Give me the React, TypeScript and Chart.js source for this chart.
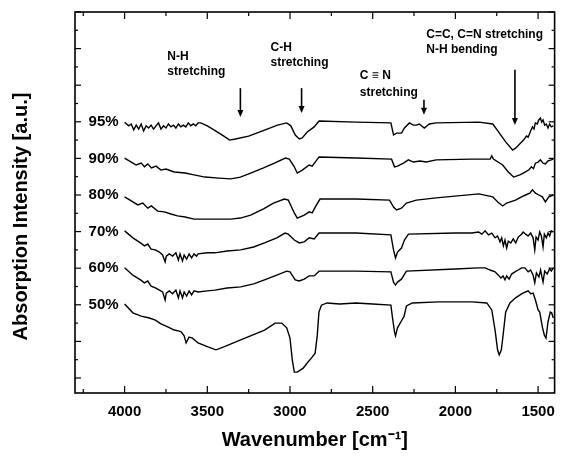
import React, { useEffect, useRef } from 'react';
import { Chart, registerables } from 'chart.js';

Chart.register(...registerables);

// ---- data (wavenumber in cm-1, absorption in arbitrary offset units) ----
const wn95 = [4000, 3975, 3960, 3945, 3930, 3915, 3900, 3885, 3870, 3855, 3840, 3825, 3810, 3795, 3780, 3765, 3750, 3735, 3720, 3705, 3690, 3675, 3660, 3645, 3630, 3615, 3600, 3585, 3570, 3555, 3540, 3500, 3450, 3400, 3365, 3330, 3250, 3150, 3076, 3020, 2995, 2968, 2944, 2926, 2896, 2878, 2854, 2824, 2600, 2390, 2374, 2356, 2326, 2308, 2278, 2254, 2236, 2218, 2188, 2158, 2116, 1858, 1774, 1738, 1696, 1654, 1636, 1588, 1570, 1560, 1545, 1534, 1525, 1516, 1505, 1496, 1486, 1478, 1470, 1460, 1450, 1440, 1430, 1420, 1408];
const ab95 = [69.9, 68.9, 69.4, 67.8, 69.1, 68.0, 69.4, 67.5, 68.9, 68.3, 69.1, 68.0, 68.9, 69.7, 68.0, 68.9, 68.3, 69.4, 68.6, 69.1, 68.3, 69.4, 68.6, 69.1, 68.6, 69.7, 68.9, 69.4, 68.9, 69.7, 69.7, 68.9, 67.5, 66.1, 65.0, 65.3, 66.1, 67.8, 69.1, 69.7, 68.9, 66.4, 65.3, 65.6, 67.2, 67.8, 68.6, 70.2, 69.9, 69.7, 66.4, 66.9, 66.9, 68.3, 69.7, 69.1, 69.1, 69.4, 68.3, 69.4, 69.7, 69.9, 69.4, 67.2, 64.5, 62.3, 62.8, 65.0, 66.1, 65.8, 67.5, 68.6, 68.0, 69.7, 69.4, 70.5, 71.0, 69.9, 70.5, 69.1, 69.4, 68.3, 69.4, 68.6, 68.9];

const wn90 = [4000, 3960, 3930, 3900, 3880, 3860, 3838, 3810, 3780, 3750, 3700, 3634, 3580, 3514, 3430, 3358, 3300, 3238, 3160, 3094, 3028, 3004, 2974, 2956, 2926, 2884, 2866, 2824, 2600, 2386, 2368, 2350, 2314, 2284, 2254, 2215, 2176, 2116, 1900, 1790, 1780, 1770, 1714, 1680, 1648, 1610, 1576, 1555, 1540, 1528, 1516, 1500, 1486, 1470, 1456, 1440, 1420, 1408];
const ab90 = [60.1, 59.0, 58.2, 58.7, 57.7, 58.5, 57.4, 57.9, 56.8, 57.1, 56.3, 56.0, 55.5, 54.9, 54.6, 54.4, 54.9, 56.0, 57.4, 58.7, 60.1, 59.8, 57.7, 56.0, 56.8, 58.2, 57.9, 60.4, 60.1, 59.8, 57.7, 57.9, 58.7, 59.6, 59.0, 59.3, 59.0, 59.6, 59.8, 59.8, 60.7, 59.8, 58.2, 56.3, 54.9, 55.5, 56.3, 56.9, 57.7, 57.2, 58.7, 59.0, 59.6, 58.7, 58.5, 59.3, 59.6, 59.8];

const wn80 = [4000, 3960, 3920, 3890, 3860, 3838, 3800, 3760, 3720, 3680, 3634, 3580, 3514, 3430, 3358, 3300, 3238, 3160, 3100, 3034, 3010, 2974, 2956, 2914, 2884, 2866, 2840, 2818, 2600, 2398, 2374, 2356, 2326, 2296, 2236, 2116, 1858, 1774, 1744, 1714, 1690, 1636, 1600, 1576, 1550, 1534, 1516, 1495, 1474, 1456, 1435, 1408];
const ab80 = [49.5, 48.4, 47.3, 47.8, 46.4, 47.0, 45.6, 45.4, 44.8, 44.3, 44.0, 43.4, 43.4, 43.4, 43.4, 43.7, 44.5, 46.2, 47.8, 48.9, 48.6, 45.1, 43.7, 44.5, 45.4, 45.1, 47.3, 48.9, 48.9, 48.6, 46.7, 45.9, 46.4, 47.8, 48.6, 49.2, 50.3, 49.5, 48.1, 47.0, 47.8, 48.6, 49.5, 50.0, 50.5, 51.4, 50.5, 50.0, 49.5, 48.1, 49.5, 50.0];

const wn70 = [4000, 3950, 3904, 3880, 3860, 3840, 3814, 3790, 3770, 3755, 3748, 3730, 3710, 3690, 3675, 3665, 3650, 3640, 3625, 3610, 3595, 3580, 3565, 3556, 3500, 3454, 3380, 3298, 3220, 3154, 3080, 3030, 3010, 2974, 2944, 2914, 2884, 2854, 2824, 2600, 2390, 2374, 2362, 2350, 2326, 2308, 2284, 2000, 1900, 1860, 1840, 1820, 1800, 1780, 1760, 1745, 1730, 1720, 1710, 1700, 1690, 1680, 1665, 1650, 1635, 1620, 1600, 1590, 1575, 1560, 1545, 1530, 1520, 1512, 1500, 1490, 1480, 1470, 1462, 1450, 1440, 1430, 1420, 1408];
const ab70 = [40.2, 38.3, 36.9, 36.1, 36.6, 35.2, 35.0, 34.4, 33.6, 31.7, 33.3, 33.9, 33.3, 34.2, 32.2, 33.9, 32.0, 33.6, 32.5, 33.9, 32.8, 33.9, 33.3, 33.9, 34.2, 34.2, 34.7, 35.0, 35.8, 36.9, 38.3, 39.6, 39.3, 37.7, 36.9, 37.2, 38.3, 38.0, 39.6, 39.6, 39.1, 35.0, 32.8, 34.4, 35.5, 37.7, 39.3, 39.6, 39.6, 39.9, 39.3, 40.2, 39.1, 39.6, 38.3, 38.8, 37.2, 38.3, 36.1, 37.7, 35.5, 37.4, 36.9, 38.0, 36.9, 38.5, 39.3, 39.9, 39.3, 38.8, 39.6, 38.3, 35.0, 38.5, 37.7, 39.9, 38.8, 35.8, 39.3, 38.3, 39.6, 38.8, 40.2, 39.9];

const wn60 = [4000, 3950, 3904, 3880, 3860, 3840, 3814, 3790, 3770, 3755, 3748, 3730, 3710, 3690, 3675, 3665, 3650, 3640, 3625, 3610, 3595, 3580, 3556, 3500, 3454, 3380, 3298, 3220, 3154, 3080, 3020, 3000, 2968, 2944, 2914, 2884, 2854, 2824, 2600, 2390, 2374, 2362, 2350, 2326, 2296, 2000, 1860, 1820, 1790, 1760, 1740, 1725, 1712, 1700, 1690, 1675, 1660, 1640, 1620, 1600, 1580, 1560, 1545, 1530, 1520, 1510, 1495, 1485, 1470, 1460, 1445, 1430, 1420, 1408];
const ab60 = [30.1, 28.1, 26.8, 26.0, 26.5, 25.1, 24.6, 24.0, 23.5, 21.3, 23.2, 23.8, 23.0, 24.0, 21.9, 23.8, 21.9, 23.5, 22.4, 23.8, 22.7, 23.8, 23.5, 23.8, 24.0, 24.6, 24.9, 25.7, 26.8, 28.1, 29.2, 29.0, 26.8, 26.5, 27.0, 27.9, 27.9, 29.2, 29.2, 29.0, 26.2, 25.4, 26.2, 27.0, 29.2, 29.8, 30.1, 30.1, 29.5, 29.0, 28.1, 27.3, 27.9, 26.8, 27.9, 27.0, 28.4, 29.0, 29.5, 30.1, 30.1, 29.0, 29.5, 28.1, 26.0, 28.7, 27.6, 29.5, 26.2, 29.2, 28.4, 29.8, 29.2, 30.1];

const wn50 = [4000, 3950, 3900, 3850, 3814, 3780, 3736, 3700, 3670, 3658, 3640, 3628, 3610, 3590, 3570, 3556, 3496, 3448, 3400, 3298, 3154, 3090, 3050, 3020, 3000, 2986, 2974, 2956, 2920, 2896, 2870, 2848, 2835, 2825, 2810, 2776, 2700, 2600, 2500, 2390, 2380, 2368, 2362, 2350, 2330, 2310, 2296, 2260, 2100, 1900, 1810, 1780, 1760, 1745, 1735, 1722, 1710, 1696, 1670, 1636, 1600, 1576, 1560, 1545, 1530, 1516, 1500, 1490, 1474, 1462, 1452, 1440, 1426, 1418, 1408];
const ab50 = [20.2, 17.8, 16.9, 16.4, 15.8, 14.8, 13.9, 13.1, 12.8, 12.6, 11.5, 9.6, 11.2, 10.9, 10.1, 9.6, 8.5, 7.7, 8.5, 10.4, 13.1, 15.0, 15.0, 13.7, 10.9, 4.9, 1.6, 1.6, 2.7, 4.1, 5.5, 6.8, 11.7, 18.0, 19.9, 20.5, 20.2, 20.5, 20.2, 19.9, 16.4, 12.6, 11.5, 13.7, 15.3, 16.9, 19.7, 20.5, 20.8, 20.8, 20.5, 18.6, 13.1, 7.7, 6.3, 7.7, 12.3, 18.0, 20.5, 21.9, 23.0, 23.5, 23.8, 23.0, 23.2, 21.3, 18.6, 18.0, 13.9, 11.7, 10.9, 15.3, 18.0, 17.8, 16.4];

const seriesLabels = ['95%', '90%', '80%', '70%', '60%', '50%'];
const labelLevels = [70, 60, 50, 40, 30, 20];
const seriesWn = [wn95, wn90, wn80, wn70, wn60, wn50];
const seriesAb = [ab95, ab90, ab80, ab70, ab60, ab50];

const xTickValues = [4000, 3500, 3000, 2500, 2000, 1500];
const yTitleText = 'Absorption Intensity [a.u.]';
const xTitleText = 'Wavenumber [cm\u207B\u00B9]';

// annotations
const annLine1 = ['N-H', 'C-H', 'C \u2261 N', 'C=C, C=N stretching'];
const annLine2 = ['stretching', 'stretching', 'stretching', 'N-H bending'];
const annWn = [3742, 3118, 2578, 2176];
const annY1 = [87.7, 90.2, 82.5, 93.7];
const annY2 = [83.6, 86.1, 77.9, 89.6];
const arrowWn = [3300, 2930, 2190, 1640];
const arrowFrom = [79.2, 79.2, 76.0, 84.2];
const arrowTo = [71.3, 72.4, 71.9, 69.1];

const FONT = '"Liberation Sans", Arial, Helvetica, sans-serif';

const decorPlugin = {
  id: 'decor',
  afterDatasetsDraw(chart: any) {
    const { ctx, chartArea: a, scales } = chart;
    const x = scales.x;
    const y = scales.y;
    ctx.save();
    ctx.strokeStyle = '#000';
    ctx.fillStyle = '#000';
    // frame
    ctx.lineWidth = 1.6;
    ctx.strokeRect(a.left, a.top, a.right - a.left, a.bottom - a.top);
    ctx.lineWidth = 1.2;
    const seg = (x1: number, y1: number, x2: number, y2: number) => {
      ctx.beginPath();
      ctx.moveTo(x1, y1);
      ctx.lineTo(x2, y2);
      ctx.stroke();
    };
    // x ticks (inward, top and bottom)
    for (let v = 1500; v <= 4250; v += 250) {
      const px = x.getPixelForValue(v);
      const len = v % 500 === 0 ? 7 : 4;
      seg(px, a.bottom, px, a.bottom - len);
      seg(px, a.top, px, a.top + len);
    }
    // y ticks (inward, left and right)
    for (let v = 0; v <= 100; v += 5) {
      const py = y.getPixelForValue(v);
      const len = v % 10 === 0 ? 6 : 3;
      seg(a.left, py, a.left + len, py);
      seg(a.right, py, a.right - len, py);
    }
    // y axis title (rotated)
    ctx.save();
    ctx.translate(21, (a.top + a.bottom) / 2 + 14);
    ctx.rotate(-Math.PI / 2);
    ctx.font = `bold 20px ${FONT}`;
    ctx.textAlign = 'center';
    ctx.textBaseline = 'middle';
    ctx.fillText(yTitleText, 0, 0);
    ctx.restore();
    // series labels
    ctx.font = `bold 15px ${FONT}`;
    ctx.textAlign = 'right';
    ctx.textBaseline = 'middle';
    const lx = x.getPixelForValue(4000) - 6;
    seriesLabels.forEach((t, i) => {
      ctx.fillText(t, lx, y.getPixelForValue(labelLevels[i]));
    });
    // annotation text
    ctx.font = `bold 12px ${FONT}`;
    ctx.textAlign = 'left';
    annLine1.forEach((t, i) => {
      const px = x.getPixelForValue(annWn[i]);
      ctx.fillText(t, px, y.getPixelForValue(annY1[i]));
      ctx.fillText(annLine2[i], px, y.getPixelForValue(annY2[i]));
    });
    // arrows
    ctx.lineWidth = 1.6;
    arrowWn.forEach((w, i) => {
      const px = x.getPixelForValue(w);
      const y1 = y.getPixelForValue(arrowFrom[i]);
      const y2 = y.getPixelForValue(arrowTo[i]);
      seg(px, y1, px, y2 - 5);
      ctx.beginPath();
      ctx.moveTo(px - 3, y2 - 7);
      ctx.lineTo(px + 3, y2 - 7);
      ctx.lineTo(px, y2);
      ctx.closePath();
      ctx.fill();
    });
    ctx.restore();
  },
};

export default function App() {
  const canvasRef = useRef<HTMLCanvasElement | null>(null);

  useEffect(() => {
    const canvas = canvasRef.current;
    if (!canvas) return;
    const datasets = seriesLabels.map((label, i) => ({
      label,
      data: seriesWn[i].map((w, j) => ({ x: w, y: seriesAb[i][j] })),
      borderColor: '#000',
      backgroundColor: '#000',
      borderWidth: 1.4,
      pointRadius: 0,
      tension: 0,
      fill: false,
    }));
    const chart = new Chart(canvas, {
      type: 'line',
      data: { datasets },
      plugins: [decorPlugin],
      options: {
        animation: false,
        responsive: false,
        maintainAspectRatio: false,
        layout: { padding: { top: 12, right: 7, bottom: 0, left: 0 } },
        plugins: {
          legend: { display: false },
          tooltip: { enabled: false },
        },
        scales: {
          x: {
            type: 'linear',
            reverse: true,
            min: 1400,
            max: 4300,
            grid: { display: false, drawTicks: false },
            border: { display: false },
            afterBuildTicks: (scale: any) => {
              scale.ticks = xTickValues.map((v) => ({ value: v }));
            },
            afterFit: (scale: any) => {
              scale.height = 64;
            },
            ticks: {
              color: '#000',
              font: { family: FONT, size: 15, weight: 'bold' },
              padding: 10,
              maxRotation: 0,
              callback: (v: any) => String(v),
            },
            title: {
              display: true,
              text: xTitleText,
              color: '#000',
              font: { family: FONT, size: 20, weight: 'bold' },
              padding: { top: 4, bottom: 5 },
            },
          },
          y: {
            type: 'linear',
            min: -4.1,
            max: 100,
            grid: { display: false, drawTicks: false },
            border: { display: false },
            ticks: { display: false },
            afterFit: (scale: any) => {
              scale.width = 75;
            },
            title: { display: false },
          },
        },
      },
    });
    return () => chart.destroy();
  }, []);

  return (
    <div style={{ position: 'fixed', left: 0, top: 0, width: 565, height: 457, background: '#fff' }}>
      <canvas ref={canvasRef} width={565} height={457} style={{ display: 'block' }} />
    </div>
  );
}
